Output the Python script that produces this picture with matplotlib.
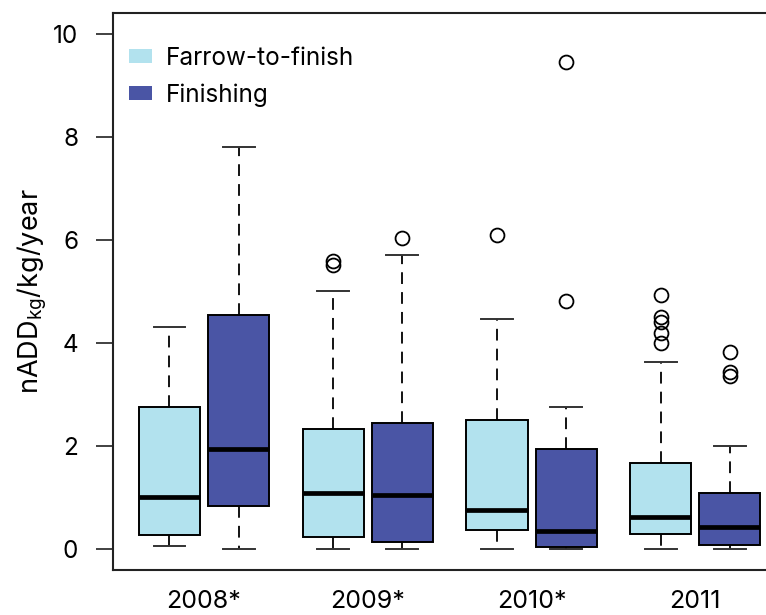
import matplotlib
matplotlib.use("Agg")
import matplotlib.pyplot as plt
from matplotlib.patches import Patch

plt.rcParams['font.family'] = ['Inter', 'DejaVu Sans']
plt.rcParams['mathtext.fontset'] = 'custom'
plt.rcParams['mathtext.rm'] = 'Inter'

# Year groups and production types
years = ["2008*", "2009*", "2010*", "2011"]
types = ["Farrow-to-finish", "Finishing"]
colors = ["#b2e2ee", "#4a55a5"]

# Box statistics per year: [Farrow-to-finish, Finishing]
whislo = [[0.05, 0.00], [0.00, 0.00], [0.00, 0.00], [0.00, 0.00]]
q1     = [[0.27, 0.83], [0.24, 0.13], [0.36, 0.04], [0.28, 0.07]]
med    = [[1.00, 1.93], [1.09, 1.05], [0.75, 0.34], [0.61, 0.43]]
q3     = [[2.75, 4.53], [2.32, 2.45], [2.50, 1.93], [1.66, 1.09]]
whishi = [[4.31, 7.80], [5.01, 5.70], [4.46, 2.75], [3.62, 2.00]]
fliers = [
    [[], []],
    [[5.59, 5.51], [6.03]],
    [[6.10], [9.45, 4.82]],
    [[4.92, 4.50, 4.40, 4.18, 4.00], [3.82, 3.43, 3.35]],
]

fig = plt.figure(figsize=(7.66, 6.15), dpi=100)
ax = fig.add_axes([113 / 766, 45 / 615, 656 / 766, 557 / 615])

offset = 0.211
width = 0.373
for t in range(2):
    stats = []
    for g in range(len(years)):
        stats.append(dict(med=med[g][t], q1=q1[g][t], q3=q3[g][t],
                          whislo=whislo[g][t], whishi=whishi[g][t],
                          fliers=fliers[g][t]))
    pos = [g + (offset if t else -offset) for g in range(len(years))]
    ax.bxp(stats, positions=pos, widths=width, capwidths=0.195,
           patch_artist=True, showfliers=True,
           boxprops=dict(facecolor=colors[t], edgecolor="black", linewidth=1.4),
           medianprops=dict(color="black", linewidth=3.4, solid_capstyle="butt"),
           whiskerprops=dict(color="black", linewidth=1.3, linestyle=(0, (6.5, 4.5))),
           capprops=dict(color="#333333", linewidth=1.4),
           flierprops=dict(marker="o", markersize=10, markerfacecolor="none",
                           markeredgecolor="black", markeredgewidth=1.3))

ax.set_xlim(-0.556, 3.45)
ax.set_ylim(-0.41, 10.40)
ax.set_xticks(range(len(years)))
ax.set_xticklabels(years, fontsize=18)
ax.set_yticks([0, 2, 4, 6, 8, 10])
ax.set_yticklabels(["0", "2", "4", "6", "8", "10"], fontsize=17.5)
ax.tick_params(axis="x", length=0, pad=14.5)
ax.tick_params(axis="y", length=12, width=1.3, color="#333333", pad=13)
for s in ax.spines.values():
    s.set_linewidth(1.5)
    s.set_color("#222222")

ax.set_ylabel(r"$\mathregular{nADD_{kg}/kg/year}$", fontsize=19.5, labelpad=3)

handles = [Patch(facecolor=c, edgecolor="none") for c in colors]
ax.legend(handles, types, loc="upper left", bbox_to_anchor=(129 / 766, 1 - 47 / 615),
          bbox_transform=fig.transFigure, frameon=False, fontsize=17.5,
          handlelength=0.95, handleheight=0.5, handletextpad=0.55,
          labelspacing=0.55, borderpad=0, borderaxespad=0)

fig.savefig("out.png", dpi=100)
